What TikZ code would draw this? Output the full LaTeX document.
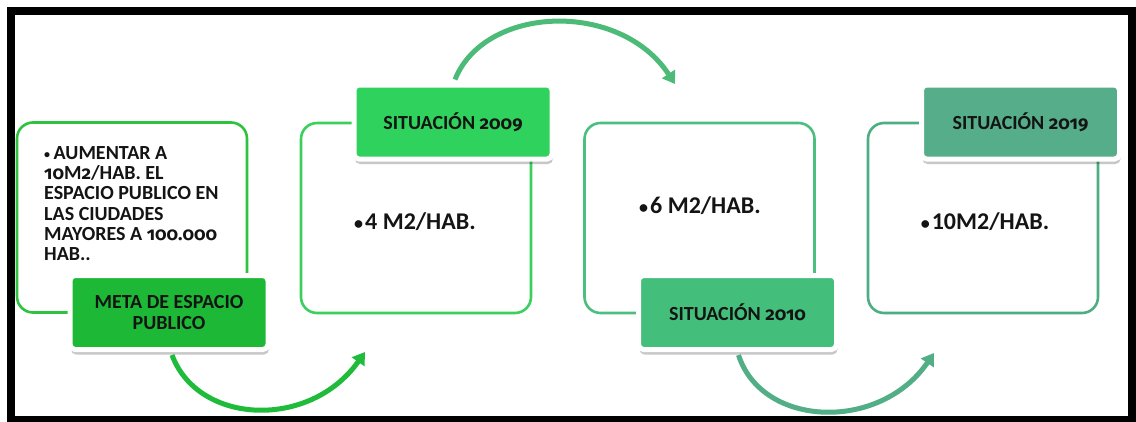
\documentclass[tikz,border=0pt]{standalone}
\usepackage{fontspec}
\setmainfont{Carlito}[BoldFont=* Bold]
\newfontfamily\osf{Fira Sans}[Numbers=OldStyle,BoldFont=* Bold,Scale=0.92]
\usetikzlibrary{arrows.meta,shadows}
\definecolor{gA}{HTML}{2EC23F}
\definecolor{gAf}{HTML}{1CB836}
\definecolor{gAa}{HTML}{1EBC3A}
\definecolor{gB}{HTML}{3BD05C}
\definecolor{gBf}{HTML}{2FD25C}
\definecolor{gBa}{HTML}{4CBB78}
\definecolor{gC}{HTML}{4CBF80}
\definecolor{gCf}{HTML}{44BE7B}
\definecolor{gCa}{HTML}{52AE86}
\definecolor{gD}{HTML}{4DAE84}
\definecolor{gDf}{HTML}{55AD89}
\definecolor{txt}{HTML}{141414}
\newcommand{\bigbul}{{\fontsize{18}{18}\selectfont\raisebox{0.1ex}{•}}\kern2pt}
\newcommand{\smbul}{{\fontsize{12}{12}\selectfont\raisebox{0.12ex}{•}}\kern3.5pt}
\tikzset{
  infobox/.style={draw=#1, line width=2.6pt, fill=white, rounded corners=16pt,
    minimum width=230pt, minimum height=190pt, inner sep=0pt},
  tagbox/.style={fill=#1, draw=white, line width=5pt, rounded corners=5pt,
    minimum width=198pt, minimum height=74pt, inner sep=0pt, align=center,
    text=txt, font=\bfseries\fontsize{20}{21}\selectfont,
    drop shadow={shadow xshift=1pt, shadow yshift=-5pt, opacity=0.22, fill=black}},
  bigtxt/.style={text=txt, font=\bfseries\fontsize{24}{26}\selectfont, inner sep=0pt},
  flow/.style={line width=5pt, draw=#1, -{Triangle[width=15pt,length=12pt]}}
}
\begin{document}
\begin{tikzpicture}[x=1pt,y=-1pt]
\useasboundingbox (0,0) rectangle (1136,421);
\fill[white] (0,0) rectangle (1136,421);
% frame
\draw[line width=7.5pt, black] (11,11) rectangle (1132,419.5);
% free arrow ends
\coordinate (e1) at (365,352);
\coordinate (e2) at (675,84);
\coordinate (e3) at (934,353);
% boxes
\node[infobox=gA] (b1) at (132,217.5) {};
\node[infobox=gB] (b2) at (416,218) {};
\node[infobox=gC] (b3) at (699.5,218) {};
\node[infobox=gD] (b4) at (983,218) {};
% label nodes
\node[tagbox=gAf] (t1) at (169,312.5) {META DE ESPACIO\\PUBLICO};
\node[tagbox=gBf] (t2) at (453,122) {SITUACIÓN {\osf 2009}};
\node[tagbox=gCf] (t3) at (737.5,312.5) {SITUACIÓN {\osf 2010}};
\node[tagbox=gDf] (t4) at (1020.5,122) {SITUACIÓN {\osf 2019}};
% arrows
\draw[flow=gAa] ([xshift=3pt,yshift=-3pt]t1.south) .. controls (198,425) and (310,430) .. (e1);
\draw[flow=gBa] ([xshift=2pt,yshift=3pt]t2.north) .. controls (485,5) and (620,0) .. (e2);
\draw[flow=gCa] ([xshift=1pt,yshift=-3pt]t3.south) .. controls (762,428) and (880,432) .. (e3);
% texts
\node[anchor=north west, inner sep=0pt, align=left, text=txt,
      font=\bfseries\fontsize{20}{20.3}\selectfont] (x1) at (44,146)
  {\smbul AUMENTAR A\\{\osf 10}M{\osf 2}/HAB. EL\\ESPACIO PUBLICO EN\\LAS CIUDADES\\MAYORES A {\osf 100.000}\\HAB..};
\node[bigtxt] (x2) at (415,222) {\bigbul 4 M2/HAB.};
\node[bigtxt] (x3) at (700,206) {\bigbul 6 M2/HAB.};
\node[bigtxt] (x4) at (985,222) {\bigbul 10M2/HAB.};
\end{tikzpicture}
\end{document}
